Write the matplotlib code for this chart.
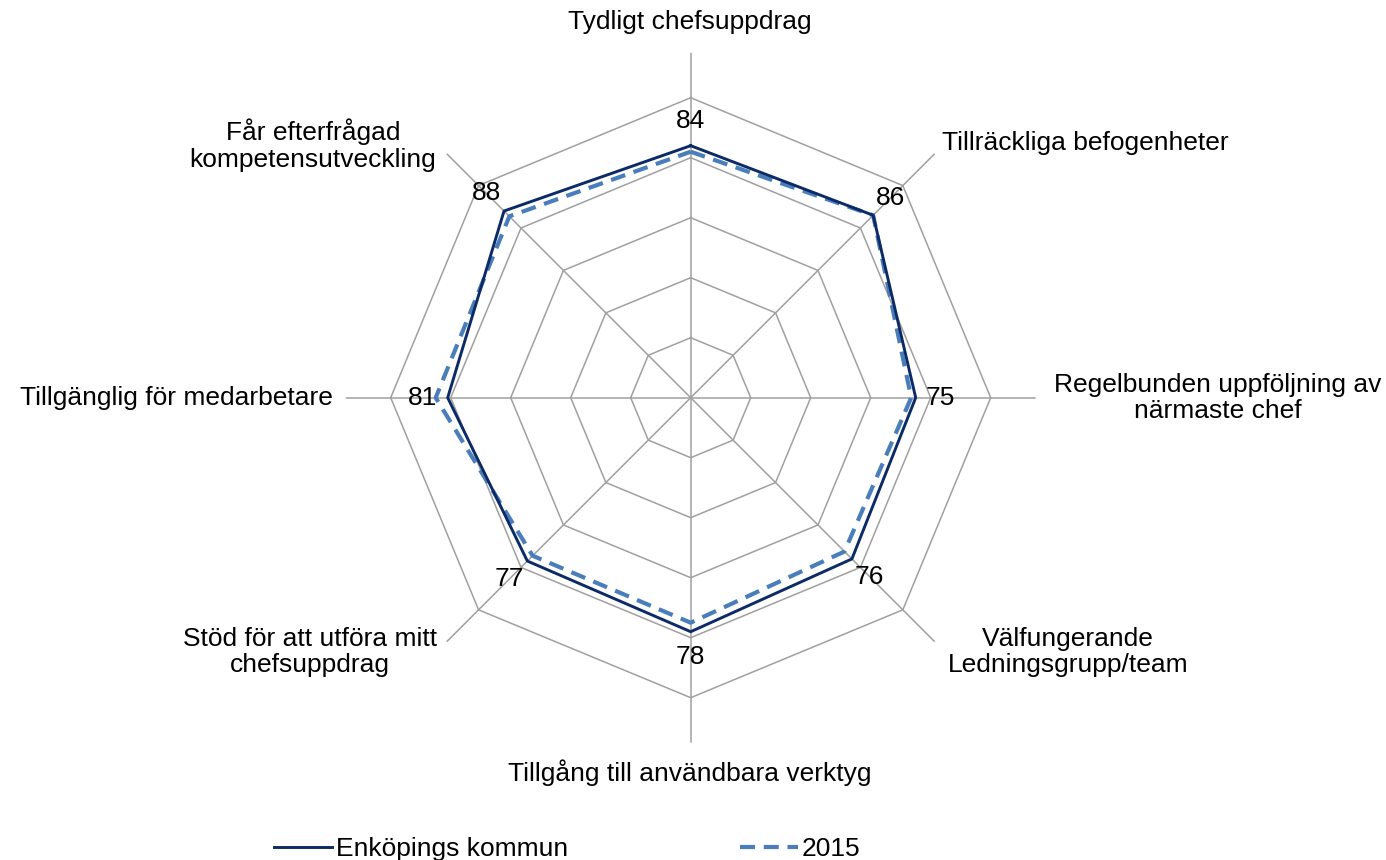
import numpy as np
import matplotlib.pyplot as plt
from matplotlib.lines import Line2D

plt.rcParams['font.family'] = ['Liberation Sans', 'DejaVu Sans']

categories = ['Tydligt chefsuppdrag', 'Tillräckliga befogenheter',
              'Regelbunden uppföljning av\nnärmaste chef', 'Välfungerande\nLedningsgrupp/team',
              'Tillgång till användbara verktyg', 'Stöd för att utföra mitt\nchefsuppdrag',
              'Tillgänglig för medarbetare', 'Får efterfrågad\nkompetensutveckling']
enkoping = [84, 86, 75, 76, 78, 77, 81, 88]
y2015 = [82, 86, 73.5, 72.5, 75, 74.5, 85, 85.5]
rings = [20, 40, 60, 80, 100]

W, H = 1386, 860
fig = plt.figure(figsize=(W / 100, H / 100), dpi=100)

# polar axes: centre (690.7, 397.7) px from top-left, r=115 -> 345 px
cx, cy, R = 690.7, 397.7, 345
ax = fig.add_axes([(cx - R) / W, (H - cy - R) / H, 2 * R / W, 2 * R / H], projection='polar')
ax.set_theta_zero_location('N')
ax.set_theta_direction(-1)
ax.set_ylim(0, 115)
ax.grid(False)
ax.spines['polar'].set_visible(False)
ax.set_xticks([])
ax.set_yticks([])
ax.patch.set_visible(False)

n = len(categories)
theta = np.arange(n) * 2 * np.pi / n
theta_c = np.append(theta, theta[0])
grid_col = '#A0A0A0'

for r in rings:
    ax.plot(theta_c, [r] * (n + 1), color=grid_col, lw=1.1, zorder=1)
for t in theta:
    ax.plot([t, t], [0, 115], color=grid_col, lw=1.1, zorder=1)

navy = '#0B2A66'
blue = '#4A7EBB'
ax.plot(theta_c, enkoping + enkoping[:1], color=navy, lw=2.1, zorder=3)
ax.plot(theta_c, y2015 + y2015[:1], color=blue, lw=3.0, dashes=(3.6, 2.1), zorder=2)

# data labels pushed outward from each vertex
for t, v in zip(theta, enkoping):
    d = 25
    ax.annotate(f'{v:.0f}', (t, v), xytext=(d * np.sin(t), d * np.cos(t)),
                textcoords='offset pixels', ha='center', va='center', fontsize=19, zorder=5)

# category labels (pixel positions from top-left)
lab_pos = [(690, 22, 'center'), (942, 143, 'left'), (1218, 398, 'center'), (1068, 652, 'center'),
           (690, 773, 'center'), (310, 652, 'center'), (333, 398, 'right'), (313, 145, 'center')]
for lab, (x, y, ha) in zip(categories, lab_pos):
    fig.text(x / W, 1 - y / H, lab, ha=ha, va='center', multialignment='center',
             fontsize=19, linespacing=1.13)

handles = [Line2D([], [], color=navy, lw=2.1),
           Line2D([], [], color=blue, lw=3.0, dashes=(3.6, 2.1))]
fig.legend(handles, ['Enköpings kommun', '2015'], loc='center left',
           bbox_to_anchor=(274 / W, 1 - 849 / H), ncol=2, frameon=False, fontsize=19,
           handlelength=2.2, handletextpad=0.15, columnspacing=6.5, borderaxespad=0, borderpad=0)

fig.savefig('out.png', dpi=100)
